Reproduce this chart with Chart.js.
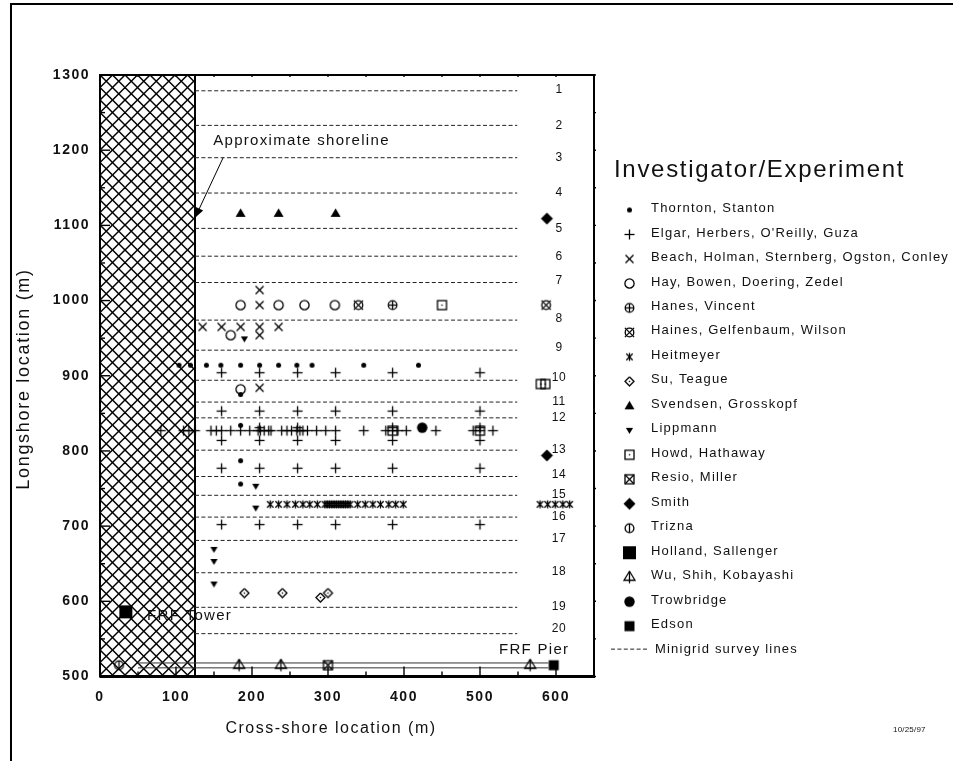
<!DOCTYPE html>
<html>
<head>
<meta charset="utf-8">
<title>Investigator/Experiment locations</title>
<script src="https://cdn.jsdelivr.net/npm/chart.js@4/dist/chart.umd.min.js"></script>
<style>
  html, body { margin: 0; background: #fff; }
  canvas { display: block; }
</style>
</head>
<body>
<canvas id="siteChart" width="953" height="761"></canvas>
<script>
// Axis ticks
const xMajorTicks = [0, 100, 200, 300, 400, 500, 600];
const xMinorTicks = [50, 150, 250, 350, 450, 550, 650];
const yMajorTicks = [500, 600, 700, 800, 900, 1000, 1100, 1200, 1300];
const yMinorTicks = [550, 650, 750, 850, 950, 1050, 1150, 1250];

// Minigrid survey lines (longshore location), numbered 1-20
const surveyLineY = [1279, 1233, 1190, 1143, 1096, 1059, 1024, 974, 934, 894, 865, 844, 801, 766, 741, 712, 681, 638, 592, 557];
const surveyLabelY = [1280, 1233, 1190, 1143, 1096, 1059, 1027, 976, 937, 897, 865, 844, 802, 768, 742, 712, 683, 640, 593, 564];
const shorelineX = 125;
const surveyEndX = 549;
const surveyLabelX = 604;

// Pier rails
const pierX = [50, 590];
const pierRailY = [518, 511.5];

// Measurement locations, [cross-shore, longshore]
const thornton = [[104, 914], [119, 914], [140, 914], [159, 914], [185, 914], [210, 914], [235, 914], [259, 914], [279, 914], [347, 914], [419, 914], [185, 875], [185, 834], [185, 787], [185, 756]];
const elgar = [
  [160, 904], [210, 904], [260, 904], [310, 904], [385, 904], [500, 904],
  [160, 853], [210, 853], [260, 853], [310, 853], [385, 853], [500, 853],
  [80, 827], [110, 827], [117, 827], [125, 827], [146, 827], [153, 827], [160, 827], [172, 827], [185, 827], [197, 827], [208, 827], [211, 827], [216, 827], [222, 827], [225, 827],
  [239, 827], [246, 827], [252, 827], [259, 827], [263, 827], [267, 827], [273, 827], [285, 827], [297, 827], [310, 827], [347, 827], [376, 827], [385, 827], [392, 827], [403, 827], [442, 827], [491, 827], [500, 827], [517, 827],
  [210, 831], [260, 831], [385, 831], [500, 831],
  [160, 814], [210, 814], [260, 814], [310, 814], [385, 814], [500, 814],
  [160, 777], [210, 777], [260, 777], [310, 777], [385, 777], [500, 777],
  [160, 702], [210, 702], [260, 702], [310, 702], [385, 702], [500, 702]
];
const beach = [[210, 1014], [210, 994], [135, 965], [160, 965], [185, 965], [210, 965], [235, 965], [210, 954], [210, 884]];
const hay = [[185, 994], [235, 994], [269, 994], [309, 994], [172, 954], [185, 882]];
const hanes = [[385, 994]];
const haines = [[340, 994], [587, 994]];
const heitmeyer = [
  [224, 729], [235, 729], [246, 729], [257, 729], [267, 729], [276, 729], [286, 729], [296, 729],
  [299, 729], [302, 729], [305, 729], [308, 729], [311, 729], [314, 729], [317, 729], [320, 729], [323, 729], [326, 729], [329, 729],
  [339, 729], [349, 729], [359, 729], [369, 729], [380, 729], [389, 729], [399, 729],
  [579, 729], [589, 729], [599, 729], [609, 729], [618, 729]
];
const su = [[190, 611], [240, 611], [300, 611], [290, 605]];
const svendsen = [[185, 1116], [235, 1116], [310, 1116]];
const lippmann = [[190, 949], [205, 753], [205, 724], [150, 669], [150, 653], [150, 623]];
const howd = [[450, 994], [580, 889], [586, 889], [385, 827], [500, 827]];
const resio = [[300, 515]];
const smith = [[588, 1109], [588, 794]];
const trizna = [[25, 515]];
const holland = [[34, 586]];
const wu = [[183, 515], [238, 515], [566, 515]];
const trowbridge = [[424, 831]];
const edson = [[597, 515]];

// Marker sprites, all drawn on a small canvas around its centre
function makeMarker(draw, size = 19) {
  const sprite = document.createElement("canvas");
  sprite.width = sprite.height = size;
  const c = sprite.getContext("2d");
  c.translate(size / 2, size / 2);
  c.strokeStyle = "#000";
  c.fillStyle = "#000";
  c.lineWidth = 1.3;
  draw(c);
  return sprite;
}

function strokePath(c, pts) {
  c.beginPath();
  pts.forEach((p, i) => (i ? c.lineTo(p[0], p[1]) : c.moveTo(p[0], p[1])));
  c.stroke();
}

function fillPoly(c, pts) {
  c.beginPath();
  pts.forEach((p, i) => (i ? c.lineTo(p[0], p[1]) : c.moveTo(p[0], p[1])));
  c.closePath();
  c.fill();
}

function ring(c, r) {
  c.beginPath();
  c.arc(0, 0, r, 0, Math.PI * 2);
  c.stroke();
}

function dot(c, r) {
  c.beginPath();
  c.arc(0, 0, r, 0, Math.PI * 2);
  c.fill();
}

function plus(c, a) {
  strokePath(c, [[-a, 0], [a, 0]]);
  strokePath(c, [[0, -a], [0, a]]);
}

function cross(c, a) {
  strokePath(c, [[-a, -a], [a, a]]);
  strokePath(c, [[-a, a], [a, -a]]);
}

const markers = {
  thornton: makeMarker((c) => dot(c, 2.5)),
  elgar: makeMarker((c) => plus(c, 5)),
  beach: makeMarker((c) => cross(c, 4)),
  hay: makeMarker((c) => ring(c, 4.6)),
  hanes: makeMarker((c) => { ring(c, 4.3); plus(c, 4.3); }),
  haines: makeMarker((c) => { ring(c, 4.3); cross(c, 4.6); }),
  heitmeyer: makeMarker((c) => { cross(c, 3.2); strokePath(c, [[0, -4], [0, 4]]); }),
  su: makeMarker((c) => {
    strokePath(c, [[0, -4.5], [4.5, 0], [0, 4.5], [-4.5, 0], [0, -4.5]]);
    dot(c, 0.8);
  }),
  svendsen: makeMarker((c) => fillPoly(c, [[0, -5], [5, 3.6], [-5, 3.6]])),
  lippmann: makeMarker((c) => fillPoly(c, [[-3.6, -2.6], [3.6, -2.6], [0, 3.4]])),
  howd: makeMarker((c) => { c.strokeRect(-4.5, -4.5, 9, 9); dot(c, 0.8); }),
  resio: makeMarker((c) => { c.strokeRect(-4.5, -4.5, 9, 9); cross(c, 4.5); }),
  smith: makeMarker((c) => fillPoly(c, [[0, -6], [6, 0], [0, 6], [-6, 0]])),
  trizna: makeMarker((c) => { ring(c, 4.4); strokePath(c, [[0, -4.4], [0, 4.4]]); }),
  holland: makeMarker((c) => c.fillRect(-6.5, -6.5, 13, 13)),
  wu: makeMarker((c) => {
    strokePath(c, [[0, -6], [5.5, 3], [-5.5, 3], [0, -6]]);
    strokePath(c, [[0, -6], [0, 6]]);
  }),
  trowbridge: makeMarker((c) => dot(c, 5.2)),
  edson: makeMarker((c) => c.fillRect(-5, -5, 10, 10))
};

const legendRows = [
  ["Thornton, Stanton", thornton, markers.thornton],
  ["Elgar, Herbers, O'Reilly, Guza", elgar, markers.elgar],
  ["Beach, Holman, Sternberg, Ogston, Conley", beach, markers.beach],
  ["Hay, Bowen, Doering, Zedel", hay, markers.hay],
  ["Hanes, Vincent", hanes, markers.hanes],
  ["Haines, Gelfenbaum, Wilson", haines, markers.haines],
  ["Heitmeyer", heitmeyer, markers.heitmeyer],
  ["Su, Teague", su, markers.su],
  ["Svendsen, Grosskopf", svendsen, markers.svendsen],
  ["Lippmann", lippmann, markers.lippmann],
  ["Howd, Hathaway", howd, markers.howd],
  ["Resio, Miller", resio, markers.resio],
  ["Smith", smith, markers.smith],
  ["Trizna", trizna, markers.trizna],
  ["Holland, Sallenger", holland, markers.holland],
  ["Wu, Shih, Kobayashi", wu, markers.wu],
  ["Trowbridge", trowbridge, markers.trowbridge],
  ["Edson", edson, markers.edson]
];

const annotations = [
  { text: "Approximate shoreline", x: 149, y: 1212 },
  { text: "FRF Tower", x: 62, y: 580 },
  { text: "FRF Pier", x: 525, y: 535 }
];

const FONT = '"Liberation Sans", Arial, sans-serif';
const ctx = document.getElementById("siteChart").getContext("2d");

function makeHatch() {
  const tile = document.createElement("canvas");
  tile.width = tile.height = 25;
  const c = tile.getContext("2d");
  c.strokeStyle = "#000";
  c.lineWidth = 1.5;
  for (let i = -25; i <= 50; i += 12.5) {
    strokePath(c, [[i, 0], [i + 25, 25]]);
    strokePath(c, [[i, 25], [i + 25, 0]]);
  }
  return ctx.createPattern(tile, "repeat");
}

function surveyLinePoints() {
  const pts = [];
  surveyLineY.forEach((y) => {
    pts.push({ x: shorelineX, y }, { x: surveyEndX, y }, { x: NaN, y: NaN });
  });
  return pts;
}

function lineSet(data, extra) {
  return { data, showLine: true, fill: false, pointRadius: 0, borderColor: "#000", borderWidth: 1, ...extra };
}

function pointSet(label, rows, marker) {
  return {
    label,
    data: rows.map((r) => ({ x: r[0], y: r[1] })),
    showLine: false,
    pointStyle: marker,
    clip: false
  };
}

// Inward ticks, frame, survey numbers, notes and the legend panel
const sitePlugin = {
  id: "sitePlugin",
  beforeDraw(chart) {
    chart.ctx.letterSpacing = "1.5px";
  },
  afterDatasetsDraw(chart) {
    const c = chart.ctx;
    const { x, y } = chart.scales;
    const { left, right, top, bottom } = chart.chartArea;

    c.save();
    c.strokeStyle = "#000";
    c.fillStyle = "#000";
    c.lineWidth = 1.4;
    xMajorTicks.forEach((v) => strokePath(c, [[x.getPixelForValue(v), bottom], [x.getPixelForValue(v), bottom - 10]]));
    xMinorTicks.forEach((v) => strokePath(c, [[x.getPixelForValue(v), bottom], [x.getPixelForValue(v), bottom - 5]]));
    yMajorTicks.forEach((v) => strokePath(c, [[left, y.getPixelForValue(v)], [left + 10, y.getPixelForValue(v)]]));
    yMinorTicks.forEach((v) => strokePath(c, [[left, y.getPixelForValue(v)], [left + 5, y.getPixelForValue(v)]]));
    xMajorTicks.concat(xMinorTicks).forEach((v) => strokePath(c, [[x.getPixelForValue(v), top], [x.getPixelForValue(v), top + 2]]));
    yMajorTicks.concat(yMinorTicks).forEach((v) => strokePath(c, [[right, y.getPixelForValue(v)], [right + 2, y.getPixelForValue(v)]]));

    c.lineWidth = 2;
    c.strokeRect(left, top, right - left, bottom - top);
    c.lineWidth = 3;
    strokePath(c, [[left, bottom], [right + 1, bottom]]);

    // outer frame of the page
    c.lineWidth = 2;
    strokePath(c, [[11, 761], [11, 4], [953, 4]]);

    // shoreline arrow
    const ax0 = x.getPixelForValue(162), ay0 = y.getPixelForValue(1190);
    const ax1 = x.getPixelForValue(shorelineX), ay1 = y.getPixelForValue(1110);
    c.lineWidth = 1;
    strokePath(c, [[ax0, ay0], [ax1, ay1]]);
    const ang = Math.atan2(ay1 - ay0, ax1 - ax0);
    fillPoly(c, [
      [ax1, ay1],
      [ax1 - 11 * Math.cos(ang - 0.4), ay1 - 11 * Math.sin(ang - 0.4)],
      [ax1 - 11 * Math.cos(ang + 0.4), ay1 - 11 * Math.sin(ang + 0.4)]
    ]);

    // text
    c.fillStyle = "#111";
    c.textBaseline = "middle";
    c.textAlign = "center";
    c.font = `12px ${FONT}`;
    c.letterSpacing = "0.6px";
    surveyLabelY.forEach((v, i) => c.fillText(String(i + 1), x.getPixelForValue(surveyLabelX), y.getPixelForValue(v)));

    // axis titles
    c.font = `16px ${FONT}`;
    c.letterSpacing = "1.5px";
    c.fillText("Cross-shore location (m)", 331, 729);
    c.save();
    c.translate(24, 379);
    c.rotate(-Math.PI / 2);
    c.font = `18px ${FONT}`;
    c.letterSpacing = "1.7px";
    c.fillText("Longshore location (m)", 0, 0);
    c.restore();

    c.textAlign = "left";
    c.font = `15px ${FONT}`;
    c.letterSpacing = "1.3px";
    annotations.forEach((a) => c.fillText(a.text, x.getPixelForValue(a.x), y.getPixelForValue(a.y)));

    c.font = `8px ${FONT}`;
    c.letterSpacing = "0.2px";
    c.fillText("10/25/97", 893, 730);

    // legend
    c.font = `24px ${FONT}`;
    c.letterSpacing = "1.7px";
    c.fillText("Investigator/Experiment", 614, 170);
    c.font = `13px ${FONT}`;
    c.letterSpacing = "1.2px";
    legendRows.forEach((row, i) => {
      const ly = 208.5 + i * 24.48;
      c.fillText(row[0], 651, ly);
      c.drawImage(row[2], 629.5 - row[2].width / 2, ly + 1.5 - row[2].height / 2);
    });
    const dashY = 208.5 + legendRows.length * 24.48;
    c.lineWidth = 1;
    c.setLineDash([4, 2.4]);
    c.strokeStyle = "#222";
    strokePath(c, [[611, dashY], [647, dashY]]);
    c.setLineDash([]);
    c.fillText("Minigrid survey lines", 655, dashY);
    c.restore();
  }
};

const datasets = legendRows.map((row) => pointSet(row[0], row[1], row[2]));
pierRailY.forEach((py) => {
  datasets.push(lineSet([{ x: pierX[0], y: py }, { x: pierX[1], y: py }], { borderColor: "#333" }));
});
datasets.push(lineSet(surveyLinePoints(), { borderColor: "#222", borderDash: [4, 2.4], spanGaps: false }));
datasets.push(lineSet([{ x: 0, y: 1300 }, { x: shorelineX, y: 1300 }], {
  fill: "start",
  backgroundColor: makeHatch(),
  borderWidth: 0
}));
datasets.push(lineSet([{ x: shorelineX, y: 500 }, { x: shorelineX, y: 1300 }], { borderWidth: 2 }));
// hatch and shoreline stay under the markers
datasets[datasets.length - 2].order = 2;
datasets[datasets.length - 1].order = 1;

const tickFont = { family: FONT, size: 14, weight: "bold" };

new Chart(ctx, {
  type: "scatter",
  data: { datasets },
  plugins: [sitePlugin],
  options: {
    responsive: false,
    animation: false,
    layout: { padding: { left: 0, top: 75, right: 359, bottom: 0 } },
    plugins: { legend: { display: false }, tooltip: { enabled: false } },
    scales: {
      x: {
        type: "linear",
        min: 0,
        max: 650,
        border: { display: false },
        grid: { display: false, drawTicks: false },
        ticks: {
          stepSize: 100,
          includeBounds: false,
          maxRotation: 0,
          padding: 12,
          color: "#111",
          font: tickFont,
          callback: (v) => String(v)
        },
        afterFit(scale) { scale.height = 84.5; }
      },
      y: {
        type: "linear",
        min: 500,
        max: 1300,
        border: { display: false },
        grid: { display: false, drawTicks: false },
        ticks: {
          stepSize: 100,
          includeBounds: false,
          padding: 10,
          color: "#111",
          font: tickFont,
          callback: (v) => String(v)
        },
        afterFit(scale) { scale.width = 100; }
      }
    }
  }
});
</script>
</body>
</html>
